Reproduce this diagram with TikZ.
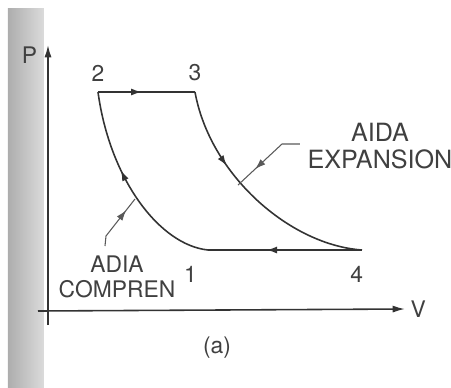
\documentclass[tikz,border=0pt]{standalone}
\usepackage{fontspec}
\setmainfont{TeX Gyre Heros}
\usetikzlibrary{arrows.meta,decorations.markings}

\def\xscale{0.02}
\def\yscale{-0.02}

\tikzset{
  ink/.style={draw=black!80, line width=0.9pt},
  lbl/.style={text=black!75, font=\fontsize{13}{14}\selectfont, inner sep=1pt},
  midarrow/.style={postaction={decorate, decoration={markings,
      mark=at position #1 with {\arrow{Latex[length=6pt,width=4pt]}}}}},
  leader/.style={draw=black!65, line width=0.6pt},
}

\begin{document}
\begin{tikzpicture}[x=\xscale cm, y=\yscale cm]
			\useasboundingbox (0, 0) rectangle (451, 387);
			% scan shadow at the left edge
			\shade[left color=black!32, right color=black!14] (8, 8) rectangle (44, 387);
			
			% axes
			\draw[ink, -{Latex[length=7pt,width=4pt]}] (48, 325) -- (48, 45) coordinate (ptop);
			\draw[ink, -{Latex[length=7pt,width=4pt]}] (38, 311) -- (405, 309) coordinate (vend);
			\node[lbl, left=5pt] (P) at (48, 55) {P};
			\node[lbl, right=2pt] (V) at (vend) {V};
			
			% state points
			\coordinate (p1) at (208, 250);
			\coordinate (p2) at (98, 92);
			\coordinate (p3) at (195, 92);
			\coordinate (p4) at (362, 250);
			
			\draw[ink, midarrow=0.45] (p2) -- (p3);
			\draw[ink, midarrow=0.33] (p3) .. controls (210, 175) and (290, 245) .. (p4);
			\draw[ink, midarrow=0.62] (p4) -- (p1);
			\draw[ink, midarrow=0.6] (p1) .. controls (160, 245) and (110, 180) .. (p2);
			
			\node[lbl, above=5pt] (n2) at (p2) {2};
			\node[lbl, above=5pt] (n3) at (p3) {3};
			\node[lbl, below=8pt, xshift=-10pt] (n1) at (p1) {1};
			\node[lbl, below=8pt, xshift=-3pt] (n4) at (p4) {4};
			
			% process labels
			\node[lbl, align=center, font=\fontsize{14.3}{15.5}\selectfont] (exp) at (380, 146) {AIDA\\EXPANSION};
			\node[lbl, align=center] (comp) at (117, 277) {ADIA\\COMPREN};
			\coordinate (e0) at (300, 144);
			\coordinate (e1) at (282, 144);
			\coordinate (e2) at (238, 185);
			\coordinate (c0) at (105, 246);
			\coordinate (c1) at (106, 236);
			\coordinate (c2) at (135, 199);
			\draw[leader, midarrow=0.7] (e0) -- (e1) -- (e2);
			\draw[leader, midarrow=0.75] (c0) -- (c1) -- (c2);
			
			\node[lbl] (cap) at (217, 348) {(a)};
		\end{tikzpicture}
\end{document}
